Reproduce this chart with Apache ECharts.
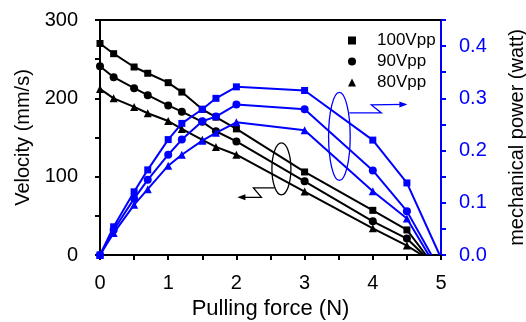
<!DOCTYPE html>
<html>
<head>
<meta charset="utf-8">
<script src="https://cdn.jsdelivr.net/npm/echarts@6/dist/echarts.min.js"></script>
<style>
  html, body { margin: 0; padding: 0; background: #fff; }
  #chart { width: 526px; height: 322px; }
</style>
</head>
<body>
<div id="chart"></div>
<script>
// measured points (pulling force in N)
const forceX = [0, 0.2, 0.5, 0.7, 1.0, 1.2, 1.5, 1.7, 2.0, 3.0, 4.0, 4.5];

// velocity (mm/s)
const vel100 = [270, 257, 240, 232, 220, 208, 186, 176, 161, 106, 57, 32];
const vel90 = [241, 227, 213, 204, 191, 183, 170, 158, 145, 94, 43, 21];
const vel80 = [212, 200, 189, 181, 171, 161, 147, 138, 128, 81, 34, 12];
// force where each velocity line reaches zero
const velStall = [4.78, 4.75, 4.72];

// mechanical power (watt)
const power100 = [0, 0.054, 0.121, 0.163, 0.221, 0.252, 0.279, 0.300, 0.322, 0.315, 0.220, 0.138];
const power90 = [0, 0.048, 0.108, 0.144, 0.192, 0.221, 0.256, 0.265, 0.288, 0.279, 0.162, 0.084];
const power80 = [0, 0.042, 0.096, 0.126, 0.171, 0.192, 0.219, 0.234, 0.254, 0.239, 0.122, 0.070];
const powerStall = [4.98, 4.86, 4.82];

const seriesNames = ["100Vpp", "90Vpp", "80Vpp"];
const symbols = ["rect", "circle", "triangle"];
const symbolSizes = [7, 8, 8];

const FONT = "'Liberation Sans', Arial, sans-serif";
const BLUE = "#0000ff";

const chart = echarts.init(document.getElementById("chart"), null, { renderer: "canvas" });

const withStall = (vals, stall) => {
  const pts = forceX.map((x, i) => [x, vals[i]]);
  pts.push({ value: [stall, 0], symbol: "none" });
  return pts;
};

const velData = [vel100, vel90, vel80];
const powData = [power100, power90, power80];

const series = [];
velData.forEach((vals, i) => {
  series.push({
    name: seriesNames[i],
    type: "line",
    xAxisIndex: 0,
    yAxisIndex: 0,
    data: withStall(vals, velStall[i]),
    symbol: symbols[i],
    symbolSize: symbolSizes[i],
    showAllSymbol: true,
    color: "#000",
    lineStyle: { color: "#000", width: 2 },
    itemStyle: { color: "#000" },
    z: 2,
  });
});
powData.forEach((vals, i) => {
  series.push({
    name: "P" + seriesNames[i],
    type: "line",
    xAxisIndex: 0,
    yAxisIndex: 1,
    data: withStall(vals, powerStall[i]),
    symbol: symbols[i],
    symbolSize: symbolSizes[i],
    showAllSymbol: true,
    color: BLUE,
    lineStyle: { color: BLUE, width: 2 },
    itemStyle: { color: BLUE },
    z: 3,
  });
});

chart.setOption({
  animation: false,
  grid: { left: 100, right: 85, top: 20, bottom: 67, outerBoundsMode: "none", containLabel: false },
  legend: {
    data: seriesNames.map((n, i) => ({ name: n, icon: symbols[i] })),
    orient: "vertical",
    left: 343,
    top: 26,
    itemWidth: 8,
    itemHeight: 8,
    itemGap: 2,
    selectedMode: false,
    textStyle: { fontFamily: FONT, fontSize: 17, color: "#000", lineHeight: 19, padding: [0, 0, 0, 16] },
  },
  xAxis: [
    {
      type: "value",
      position: "bottom",
      min: 0,
      max: 5,
      interval: 0.5,
      name: "Pulling force (N)",
      nameLocation: "middle",
      nameGap: 42,
      nameTextStyle: { fontFamily: FONT, fontSize: 22, color: "#000" },
      axisLine: { onZero: false, lineStyle: { color: "#000", width: 2 } },
      axisTick: { show: true, inside: false, length: 5, lineStyle: { color: "#000", width: 2 } },
      axisLabel: {
        fontFamily: FONT,
        fontSize: 20,
        color: "#000",
        margin: 18,
        formatter: (v) => (Math.abs(v - Math.round(v)) < 1e-6 ? String(Math.round(v)) : ""),
      },
      splitLine: { show: false },
    },
    {
      type: "value",
      position: "top",
      min: 0,
      max: 5,
      axisLine: { onZero: false, lineStyle: { color: "#000", width: 2 } },
      axisTick: { show: false },
      axisLabel: { show: false },
      splitLine: { show: false },
    },
  ],
  yAxis: [
    {
      type: "value",
      position: "left",
      min: 0,
      max: 300,
      interval: 50,
      name: "Velocity (mm/s)",
      nameLocation: "middle",
      nameGap: 61,
      nameTextStyle: { fontFamily: FONT, fontSize: 20, color: "#000" },
      axisLine: { show: true, onZero: false, lineStyle: { color: "#000", width: 2 } },
      axisTick: { show: true, inside: false, length: 5, lineStyle: { color: "#000", width: 2 } },
      axisLabel: {
        fontFamily: FONT,
        fontSize: 20,
        color: "#000",
        margin: 22,
        formatter: (v) => (Math.round(v) % 100 === 0 ? String(Math.round(v)) : ""),
      },
      splitLine: { show: false },
    },
    {
      type: "value",
      position: "right",
      min: 0,
      max: 0.45,
      interval: 0.05,
      name: "mechanical power (watt)",
      nameLocation: "middle",
      nameGap: 66,
      nameTextStyle: { fontFamily: FONT, fontSize: 20, color: "#000" },
      axisLine: { show: true, onZero: false, lineStyle: { color: BLUE, width: 2 } },
      axisTick: { show: true, inside: false, length: 5, lineStyle: { color: BLUE, width: 2 } },
      axisLabel: {
        fontFamily: FONT,
        fontSize: 20,
        color: BLUE,
        margin: 18,
        formatter: (v) => (Math.round(v * 100) % 10 === 0 ? v.toFixed(1) : ""),
      },
      splitLine: { show: false },
    },
  ],
  series,
});

// ellipse + zigzag arrow annotations, anchored in data space
const blackCenter = chart.convertToPixel({ xAxisIndex: 0, yAxisIndex: 0 }, [2.66, 110]);
const blueCenter = chart.convertToPixel({ xAxisIndex: 0, yAxisIndex: 1 }, [3.51, 0.227]);

const offsetPts = (c, pts) => pts.map(([dx, dy]) => [c[0] + dx, c[1] + dy]);

const blackZig = offsetPts(blackCenter, [[-7, 19], [-28, 19], [-20, 28.5], [-42, 28.5]]);
const blueZig = offsetPts(blueCenter, [[10, -23.5], [42, -23.5], [32, -31.5], [66, -32]]);
const blackTip = offsetPts(blackCenter, [[-44, 28.5]])[0];
const blueTip = offsetPts(blueCenter, [[68, -32]])[0];

chart.setOption({
  graphic: [
    {
      type: "ellipse",
      shape: { cx: blackCenter[0], cy: blackCenter[1], rx: 9.5, ry: 26 },
      style: { fill: "none", stroke: "#000", lineWidth: 1.3 },
      z: 10,
    },
    {
      type: "polyline",
      shape: { points: blackZig },
      style: { fill: "none", stroke: "#000", lineWidth: 1.3 },
      z: 10,
    },
    {
      type: "polygon",
      shape: { points: [blackTip, [blackTip[0] + 8, blackTip[1] - 3], [blackTip[0] + 8, blackTip[1] + 3]] },
      style: { fill: "#000" },
      z: 10,
    },
    {
      type: "ellipse",
      shape: { cx: blueCenter[0], cy: blueCenter[1], rx: 10.8, ry: 44 },
      style: { fill: "none", stroke: BLUE, lineWidth: 1.3 },
      z: 10,
    },
    {
      type: "polyline",
      shape: { points: blueZig },
      style: { fill: "none", stroke: BLUE, lineWidth: 1.3 },
      z: 10,
    },
    {
      type: "polygon",
      shape: { points: [blueTip, [blueTip[0] - 8, blueTip[1] - 3], [blueTip[0] - 8, blueTip[1] + 3]] },
      style: { fill: BLUE },
      z: 10,
    },
  ],
});
</script>
</body>
</html>
